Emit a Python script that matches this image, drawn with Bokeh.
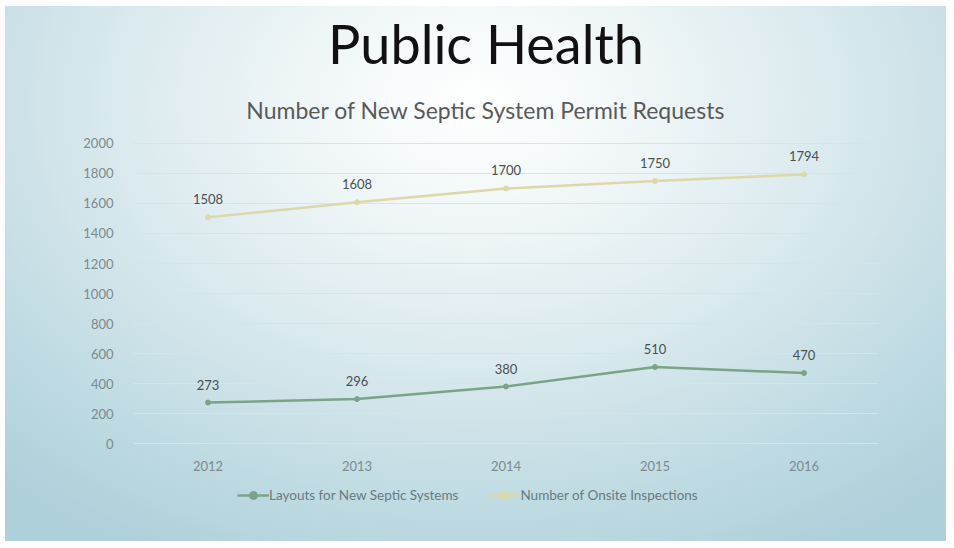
from bokeh.plotting import figure
from bokeh.models import (ColumnDataSource, Label, LabelSet, Legend, LegendItem,
                          FactorRange, Range1d, FixedTicker)
from bokeh.core.properties import value
from bokeh.embed import file_html
from bokeh.resources import INLINE

# ---- data ----
years = ["2012", "2013", "2014", "2015", "2016"]
layouts = [273, 296, 380, 510, 470]
inspections = [1508, 1608, 1700, 1750, 1794]
y_ticks = [0, 200, 400, 600, 800, 1000, 1200, 1400, 1600, 1800, 2000]
title_text = "Public Health"
subtitle_text = "Number of New Septic System Permit Requests"
series_names = ["Layouts for New Septic Systems", "Number of Onsite Inspections"]

FONT = "Lato"
GREEN = "#7aa487"
TAN = "#ddd7aa"

src = ColumnDataSource(dict(
    year=years, layouts=layouts, inspections=inspections,
    layouts_lbl=[str(v) for v in layouts],
    inspections_lbl=[str(v) for v in inspections],
))

# frame spans the whole slide height; the value axis 0..2000 sits in the middle
p = figure(width=941, height=535,
           x_range=FactorRange(*years), y_range=Range1d(-413.33, 2913.33),
           output_backend="svg", toolbar_location=None,
           min_border_left=128, min_border_right=68,
           min_border_top=0, min_border_bottom=36)
p.margin = (6, 8, 7, 5)
p.styles = {"background": "radial-gradient(ellipse 75% 95% at 50% 18%, #ffffff 0%, #f1f7f8 22%, #dbeaee 50%, #c3dde4 75%, #aed0da 100%)"}
p.background_fill_color = None
p.border_fill_color = None
p.outline_line_color = None

# axes
for ax in (p.xaxis[0], p.yaxis[0]):
    ax.axis_line_color = None
    ax.major_tick_line_color = None
    ax.minor_tick_line_color = None
    ax.major_label_text_font = FONT
    ax.major_label_text_font_size = "13px"
    ax.major_label_text_color = "#7d8a8e"
p.yaxis.ticker = FixedTicker(ticks=y_ticks)
p.yaxis.major_label_standoff = 14
p.xaxis.major_label_standoff = 11
p.xaxis.fixed_location = 0
p.xgrid.grid_line_color = None
p.ygrid.grid_line_color = "#d6e3e7"
p.ygrid.grid_line_width = 1

# series
r1 = p.line("year", "layouts", source=src, color=GREEN, line_width=2.5)
m1 = p.scatter("year", "layouts", source=src, color=GREEN, size=5)
r2 = p.line("year", "inspections", source=src, color=TAN, line_width=2.5)
m2 = p.scatter("year", "inspections", source=src, color=TAN, size=5)

for col in ("layouts", "inspections"):
    p.add_layout(LabelSet(x="year", y=col, text=col + "_lbl", source=src,
                          text_align="center", text_baseline="bottom",
                          y_offset=13, text_font=value(FONT),
                          text_font_size="13px", text_color="#4a4f52"))

# titles
p.add_layout(Label(x=2.366, y=2667, text=title_text, text_align="center",
                   text_baseline="alphabetic", text_font=FONT,
                   text_font_size="54px", text_color="#111111"))
p.add_layout(Label(x=2.366, y=2226, text=subtitle_text, text_align="center",
                   text_baseline="alphabetic", text_font=FONT,
                   text_font_size="23px", text_color="#5a5a5a"))

legend = Legend(items=[LegendItem(label=series_names[0], renderers=[r1, m1]),
                       LegendItem(label=series_names[1], renderers=[r2, m2])],
                location=(104, 0), orientation="horizontal",
                background_fill_alpha=0, border_line_color=None,
                label_text_font=FONT, label_text_font_size="13.5px",
                label_text_color="#6b7a7f", glyph_width=32, label_standoff=0,
                spacing=30, padding=0, margin=0)
p.add_layout(legend)

open("out.html", "w").write(file_html(p, INLINE))
